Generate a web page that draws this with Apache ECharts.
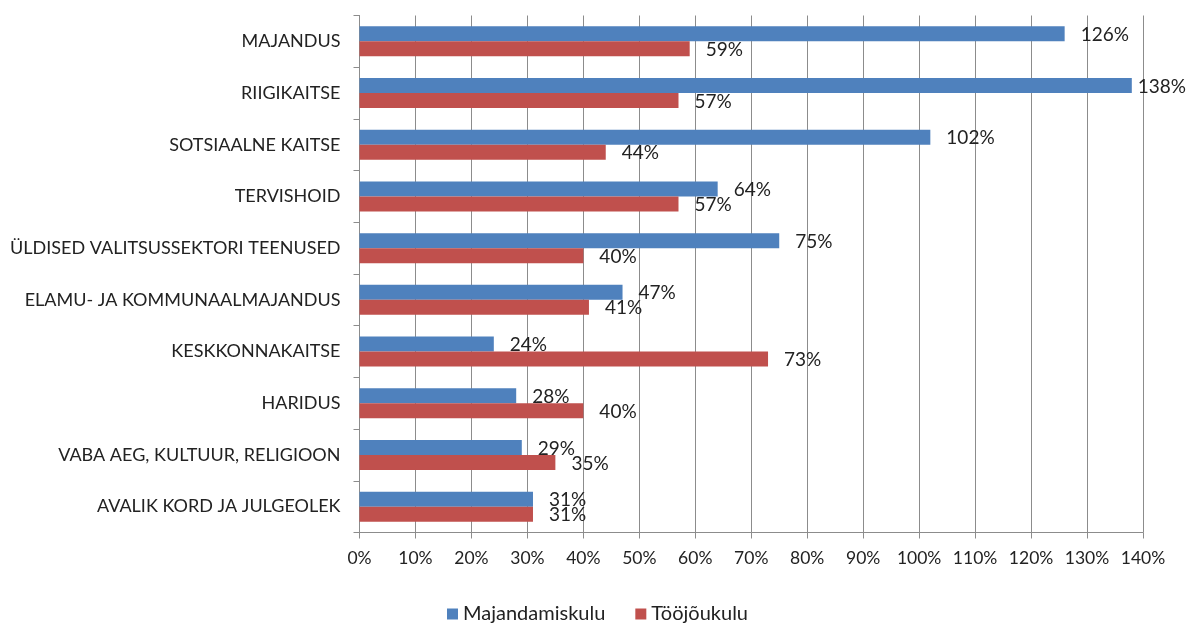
<!DOCTYPE html>
<html>
<head>
<meta charset="utf-8">
<script src="https://cdn.jsdelivr.net/npm/echarts@6/dist/echarts.min.js"></script>
<style>
  html, body { margin: 0; padding: 0; background: #ffffff; }
  #chart { width: 1195px; height: 623px; }
</style>
</head>
<body>
<div id="chart"></div>
<script>
// Valdkonnad (ülevalt alla)
const categories = [
  'MAJANDUS',
  'RIIGIKAITSE',
  'SOTSIAALNE KAITSE',
  'TERVISHOID',
  'ÜLDISED VALITSUSSEKTORI TEENUSED',
  'ELAMU- JA KOMMUNAALMAJANDUS',
  'KESKKONNAKAITSE',
  'HARIDUS',
  'VABA AEG, KULTUUR, RELIGIOON',
  'AVALIK KORD JA JULGEOLEK'
];

// Protsendid
const majandamiskulu = [126, 138, 102, 64, 75, 47, 24, 28, 29, 31];
const toojoukulu = [59, 57, 44, 57, 40, 41, 73, 40, 35, 31];

const seriesNames = ['Majandamiskulu', 'Tööjõukulu'];
const xTicks = { min: 0, max: 140, interval: 10 };

const FONT = 'Lato, "Liberation Sans", sans-serif';
const TEXT = '#222222';
const GRID = '#8c8c8c';

// Label near the right edge of the plot sits closer to its bar
function items(values) {
  return values.map(v => v >= 135 ? { value: v, label: { distance: 6 } } : v);
}

function barSeries(name, values, color) {
  return {
    name: name,
    type: 'bar',
    data: items(values),
    barWidth: 15,
    barGap: '0%',
    itemStyle: { color: color },
    label: {
      show: true,
      position: 'right',
      distance: 16,
      offset: [0, 1],
      formatter: p => p.value + '%',
      color: TEXT,
      fontFamily: FONT,
      fontSize: 19
    }
  };
}

const chart = echarts.init(document.getElementById('chart'), null, { renderer: 'canvas' });
chart.setOption({
  animation: false,
  backgroundColor: '#ffffff',
  grid: { left: 359.5, right: 52, top: 15.5, bottom: 90.5, containLabel: false },
  legend: {
    data: seriesNames,
    bottom: -6,
    left: 'center',
    itemWidth: 11,
    itemHeight: 11,
    itemGap: 30,
    icon: 'rect',
    textStyle: { color: TEXT, fontFamily: FONT, fontSize: 20 }
  },
  xAxis: {
    type: 'value',
    min: xTicks.min,
    max: xTicks.max,
    interval: xTicks.interval,
    axisLine: { show: true, lineStyle: { color: GRID, width: 1 } },
    axisTick: { show: true, length: 6, lineStyle: { color: GRID } },
    splitLine: { show: true, lineStyle: { color: GRID, width: 1 } },
    axisLabel: {
      formatter: '{value}%',
      margin: 17,
      color: TEXT,
      fontFamily: FONT,
      fontSize: 17.5
    }
  },
  yAxis: {
    type: 'category',
    data: categories,
    inverse: true,
    axisLine: { show: true, lineStyle: { color: GRID, width: 1 } },
    axisTick: { show: true, length: 6, lineStyle: { color: GRID } },
    splitLine: { show: false },
    axisLabel: {
      margin: 19,
      color: TEXT,
      fontFamily: FONT,
      fontSize: 18
    }
  },
  series: [
    barSeries(seriesNames[0], majandamiskulu, '#4f81bd'),
    barSeries(seriesNames[1], toojoukulu, '#c0504d')
  ]
});
</script>
</body>
</html>
